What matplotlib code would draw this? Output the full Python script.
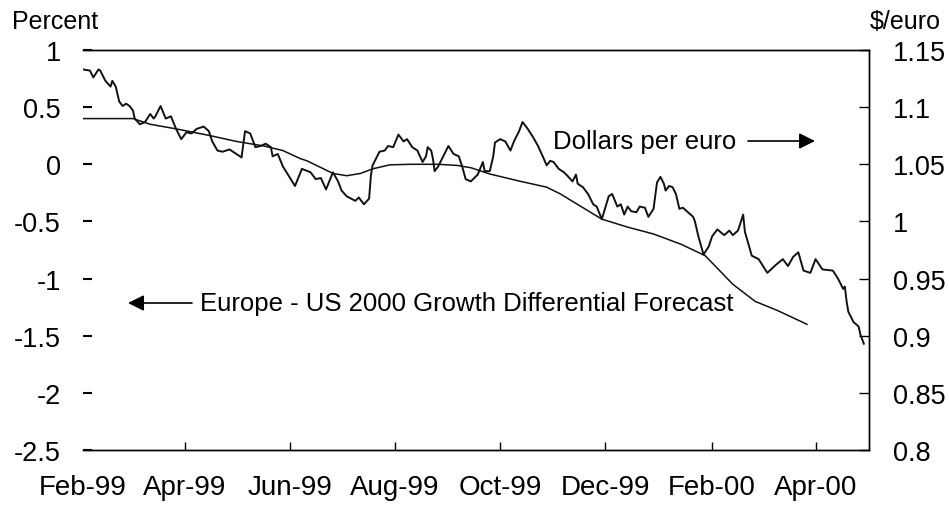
import matplotlib
matplotlib.use("Agg")
import matplotlib.pyplot as plt
import pandas as pd

plt.rcParams['font.family'] = ['Liberation Sans', 'DejaVu Sans']

# Dollars per euro (right axis)
usd_dates = [
    "1999-02-01", "1999-02-05", "1999-02-07", "1999-02-10", "1999-02-11", "1999-02-14",
    "1999-02-17", "1999-02-18", "1999-02-20", "1999-02-22", "1999-02-24", "1999-02-26",
    "1999-02-28", "1999-03-02", "1999-03-03", "1999-03-06", "1999-03-09", "1999-03-12",
    "1999-03-14", "1999-03-15", "1999-03-18", "1999-03-21", "1999-03-24", "1999-03-27",
    "1999-03-30", "1999-04-02", "1999-04-05", "1999-04-08", "1999-04-12", "1999-04-15",
    "1999-04-17", "1999-04-20", "1999-04-23", "1999-04-27", "1999-05-01", "1999-05-04",
    "1999-05-06", "1999-05-09", "1999-05-12", "1999-05-15", "1999-05-18", "1999-05-21",
    "1999-05-22", "1999-05-25", "1999-05-28", "1999-06-04", "1999-06-08", "1999-06-13",
    "1999-06-16", "1999-06-19", "1999-06-22", "1999-06-26", "1999-06-29", "1999-07-01",
    "1999-07-04", "1999-07-09", "1999-07-11", "1999-07-14", "1999-07-17", "1999-07-18",
    "1999-07-19", "1999-07-23", "1999-07-26", "1999-07-28", "1999-07-31", "1999-08-03",
    "1999-08-06", "1999-08-08", "1999-08-11", "1999-08-14", "1999-08-17", "1999-08-19",
    "1999-08-20", "1999-08-22", "1999-08-23", "1999-08-24", "1999-08-26", "1999-08-29",
    "1999-09-01", "1999-09-04", "1999-09-07", "1999-09-09", "1999-09-11", "1999-09-14",
    "1999-09-18", "1999-09-21", "1999-09-22", "1999-09-25", "1999-09-27", "1999-09-28",
    "1999-10-01", "1999-10-04", "1999-10-07", "1999-10-09", "1999-10-12", "1999-10-14",
    "1999-10-17", "1999-10-20", "1999-10-23", "1999-10-26", "1999-10-28", "1999-10-30",
    "1999-11-01", "1999-11-04", "1999-11-07", "1999-11-09", "1999-11-12", "1999-11-14",
    "1999-11-15", "1999-11-18", "1999-11-21", "1999-11-24", "1999-11-26", "1999-11-29",
    "1999-12-03", "1999-12-05", "1999-12-08", "1999-12-10", "1999-12-12", "1999-12-14",
    "1999-12-16", "1999-12-19", "1999-12-21", "1999-12-24", "1999-12-26", "1999-12-29",
    "1999-12-31", "2000-01-02", "2000-01-04", "2000-01-05", "2000-01-07", "2000-01-09",
    "2000-01-11", "2000-01-13", "2000-01-15", "2000-01-18", "2000-01-21", "2000-01-22",
    "2000-01-24", "2000-01-27", "2000-01-30", "2000-02-01", "2000-02-04", "2000-02-08",
    "2000-02-11", "2000-02-13", "2000-02-16", "2000-02-19", "2000-02-20", "2000-02-24",
    "2000-02-28", "2000-03-04", "2000-03-09", "2000-03-13", "2000-03-16", "2000-03-19",
    "2000-03-22", "2000-03-25", "2000-03-29", "2000-04-01", "2000-04-05", "2000-04-11",
    "2000-04-14", "2000-04-17", "2000-04-18", "2000-04-19", "2000-04-20", "2000-04-23",
    "2000-04-26", "2000-04-27", "2000-04-29",
]
usd_values = [
    1.133, 1.132, 1.126, 1.133, 1.132, 1.123,
    1.118, 1.123, 1.118, 1.105, 1.101, 1.103,
    1.101, 1.097, 1.090, 1.085, 1.087, 1.094,
    1.090, 1.092, 1.101, 1.090, 1.092, 1.081,
    1.072, 1.078, 1.077, 1.081, 1.083, 1.079,
    1.070, 1.062, 1.061, 1.063, 1.059, 1.056,
    1.079, 1.077, 1.065, 1.066, 1.068, 1.065,
    1.057, 1.059, 1.048, 1.031, 1.046, 1.043,
    1.037, 1.038, 1.028, 1.043, 1.035, 1.027,
    1.022, 1.018, 1.021, 1.015, 1.020, 1.040,
    1.049, 1.061, 1.062, 1.066, 1.065, 1.076,
    1.070, 1.072, 1.065, 1.062, 1.052, 1.057,
    1.065, 1.062, 1.055, 1.044, 1.048, 1.057,
    1.066, 1.059, 1.057, 1.048, 1.037, 1.035,
    1.041, 1.052, 1.044, 1.044, 1.057, 1.069,
    1.072, 1.070, 1.062, 1.070, 1.079, 1.087,
    1.081, 1.074, 1.066, 1.056, 1.049, 1.053,
    1.052, 1.046, 1.043, 1.040, 1.035, 1.041,
    1.033, 1.030, 1.024, 1.015, 1.013, 1.002,
    1.022, 1.024, 1.013, 1.015, 1.006, 1.013,
    1.009, 1.008, 1.013, 1.012, 1.004, 1.011,
    1.034, 1.039, 1.033, 1.027, 1.031, 1.030,
    1.024, 1.011, 1.012, 1.008, 1.004, 1.000,
    0.987, 0.971, 0.978, 0.987, 0.993, 0.988,
    0.992, 0.988, 0.992, 1.006, 0.991, 0.970,
    0.967, 0.955, 0.962, 0.967, 0.961, 0.969,
    0.973, 0.957, 0.955, 0.967, 0.958, 0.957,
    0.950, 0.941, 0.943, 0.930, 0.921, 0.912,
    0.908, 0.901, 0.893,
]

# Europe - US 2000 growth differential forecast (left axis, percent)
gdf_dates = [
    "1999-02-01", "1999-03-02", "1999-03-12", "1999-03-27", "1999-04-16", "1999-05-01",
    "1999-05-17", "1999-05-28", "1999-06-07", "1999-06-11", "1999-06-26", "1999-07-04",
    "1999-07-12", "1999-07-19", "1999-07-29", "1999-08-10", "1999-08-26", "1999-09-06",
    "1999-09-14", "1999-09-25", "1999-10-13", "1999-10-28", "1999-11-05", "1999-11-17",
    "1999-11-29", "1999-12-14", "1999-12-29", "2000-01-14", "2000-01-28", "2000-02-13",
    "2000-02-26", "2000-03-10", "2000-03-27",
]
gdf_values = [
    0.40, 0.40, 0.35, 0.31, 0.25, 0.20,
    0.16, 0.12, 0.05, 0.03, -0.08, -0.10,
    -0.08, -0.04, -0.005, 0.0, 0.0, -0.01,
    -0.03, -0.085, -0.15, -0.20, -0.26, -0.37,
    -0.48, -0.55, -0.61, -0.70, -0.80, -1.05,
    -1.20, -1.28, -1.40,
]

x_tick_dates = ["1999-02-01", "1999-04-01", "1999-06-01", "1999-08-01",
                "1999-10-01", "1999-12-01", "2000-02-01", "2000-04-01"]
x_tick_labels = ["Feb-99", "Apr-99", "Jun-99", "Aug-99", "Oct-99", "Dec-99", "Feb-00", "Apr-00"]
left_ticks = [1, 0.5, 0, -0.5, -1, -1.5, -2, -2.5]
left_tick_labels = ["1", "0.5", "0", "-0.5", "-1", "-1.5", "-2", "-2.5"]
right_ticks = [1.15, 1.1, 1.05, 1.0, 0.95, 0.9, 0.85, 0.8]
right_tick_labels = ["1.15", "1.1", "1.05", "1", "0.95", "0.9", "0.85", "0.8"]

W, H = 949, 510
fig = plt.figure(figsize=(W / 100, H / 100), dpi=100)
ax = fig.add_axes([83 / W, 1 - 451 / H, (869 - 83) / W, 400 / H])
ax2 = ax.twinx()

ink = "#111111"
ax.plot(pd.to_datetime(gdf_dates), gdf_values, color=ink, lw=1.1)
ax2.plot(pd.to_datetime(usd_dates), usd_values, color=ink, lw=1.4)

ax.set_xlim(pd.Timestamp("1999-02-01"), pd.Timestamp("2000-05-02"))
ax.set_ylim(-2.5, 1)
ax2.set_ylim(0.8, 1.15)

ax.set_xticks(pd.to_datetime(x_tick_dates))
ax.set_xticklabels(x_tick_labels)
ax.set_yticks(left_ticks)
ax.set_yticklabels(left_tick_labels)
ax2.set_yticks(right_ticks)
ax2.set_yticklabels(right_tick_labels)

for a in (ax, ax2):
    a.spines["left"].set_visible(False)
    for s in ("top", "right", "bottom"):
        a.spines[s].set_linewidth(1.0)
        a.spines[s].set_color("black")

ax.tick_params(axis="x", direction="in", length=6, width=1, pad=17, labelsize=20)
ax.tick_params(axis="y", direction="in", length=6.5, width=1.5, pad=16, labelsize=19.5)
ax2.tick_params(axis="y", direction="in", length=7, width=1, pad=17, labelsize=19.5)
ax.xaxis.get_major_ticks()[0].tick1line.set_visible(False)

fig.text(12 / W, 1 - 22 / H, "Percent", ha="left", va="center", fontsize=18)
fig.text(870 / W, 1 - 22 / H, r"\$/euro", ha="left", va="center", fontsize=18)

fig.text(553 / W, 1 - 142 / H, "Dollars per euro", ha="left", va="center", fontsize=18.5)
fig.text(200 / W, 1 - 304 / H, "Europe - US 2000 Growth Differential Forecast",
         ha="left", va="center", fontsize=18.5)

arrow = dict(arrowstyle="-|>", color="black", lw=1.2, mutation_scale=24, shrinkA=0, shrinkB=0)
ax.annotate("", xy=(815, H - 142), xytext=(748, H - 142), xycoords="figure pixels",
            textcoords="figure pixels", arrowprops=arrow)
ax.annotate("", xy=(128, H - 304), xytext=(192, H - 304), xycoords="figure pixels",
            textcoords="figure pixels", arrowprops=arrow)

fig.savefig("out.png", dpi=100)
